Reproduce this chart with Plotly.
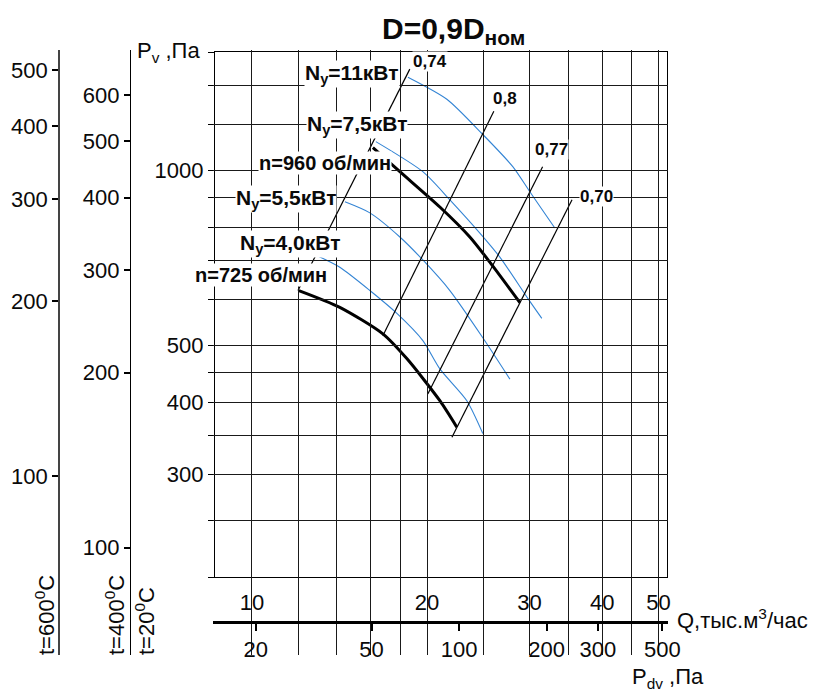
import math
import plotly.graph_objects as go

# ---------------- data ----------------
Q_MIN, Q_MAX = 8.64, 51.7          # Q axis limits, тыс. м3/час
P_MIN, P_MAX = 200, 1600           # Pv axis limits (t=20°C), Па

q_labels = [10, 20, 30, 40, 50]
q_grid = [12, 14, 16, 18, 25, 35, 45]
p_labels = [300, 400, 500, 1000]
p_grid = [200, 250, 350, 450, 600, 700, 800, 900, 1200, 1400, 1600]

pdv_ticks = [20, 50, 100, 200, 300, 500]
PDV_PER_Q2 = 0.194                 # Pdv = k * Q^2

t600_ticks = [100, 200, 300, 400, 500]
t400_ticks = [100, 200, 300, 400, 500, 600]
RATIO_600 = 0.3356                 # Pv(600°C) / Pv(20°C)
RATIO_400 = 0.445                  # Pv(400°C) / Pv(20°C)

# fan curves (Q, Pv)
n960_q = [16.14, 17.96, 21.04, 23.69, 25.64, 28.88]
n960_p = [1096, 996, 866, 769, 696, 593]
n725_q = [12.04, 14.16, 16.79, 18.46, 21.04, 22.5]
n725_p = [622, 582, 524, 475, 402, 362]

# motor power curves
N11_q = [18.54, 21.63, 24.94, 28.08, 30.04, 33.16]
N11_p = [1448, 1327, 1154, 1016, 920, 797]
N75_q = [16.33, 19.67, 21.89, 24.65, 26.68, 29.8, 31.5]
N75_p = [1122, 996, 891, 781, 710, 603, 557]
N55_q = [14.45, 15.95, 17.96, 19.67, 21.89, 24.94, 27.76]
N55_p = [884, 846, 769, 702, 622, 516, 438]
N40_q = [12.98, 14.16, 15.95, 17.75, 19.67, 21.04, 23.41, 24.94]
N40_p = [713, 682, 622, 568, 510, 456, 402, 353]

# efficiency lines
eta_names = ["0,74", "0,8", "0,77", "0,70"]
eta_q = [[12.0, 18.68], [16.79, 26.05], [20.06, 31.6], [22.07, 35.5]]
eta_p = [[622, 1495], [520, 1265], [413, 1016], [348, 891]]

# ---------------- layout geometry (pixels in the 826x698 window) ----------------
OFF = 8                         # page body margin
W, H = 818, 690
L, R, T, B = 215, 667, 52, 577
FONT = "Arial, Liberation Sans, sans-serif"
INK = "#0a0a0a"
GRID = "#1a1a1a"
BLUE = "#3384d4"


def fx(x):
    return (x - OFF) / W


def fy(y):
    return 1 - (y - OFF) / H


kx = (R - L) / (math.log10(Q_MAX) - math.log10(Q_MIN))
ky = (B - T) / (math.log10(P_MAX) - math.log10(P_MIN))


def lq_at(xpx):
    return math.log10(Q_MIN) + (xpx - L) / kx


def lp_at(ypx):
    return math.log10(P_MIN) + (B - ypx) / ky


# Pdv axis
PDV_L, PDV_R, PDV_Y = 213, 668, 622
pdv_range = [math.log10(PDV_PER_Q2) + 2 * lq_at(PDV_L),
             math.log10(PDV_PER_Q2) + 2 * lq_at(PDV_R)]

# auxiliary temperature axes
AUX_T, AUX_B = 50, 655
r600 = [math.log10(RATIO_600) + lp_at(AUX_B), math.log10(RATIO_600) + lp_at(AUX_T)]
r400 = [math.log10(RATIO_400) + lp_at(AUX_B), math.log10(RATIO_400) + lp_at(AUX_T)]

fig = go.Figure()

# power curves (blue)
for qq, pp in [(N11_q, N11_p), (N75_q, N75_p), (N55_q, N55_p), (N40_q, N40_p)]:
    fig.add_trace(go.Scatter(x=qq, y=pp, mode="lines",
                             line=dict(color=BLUE, width=1.1, shape="spline", smoothing=0.7),
                             showlegend=False, hoverinfo="skip"))

# efficiency lines
for qq, pp in zip(eta_q, eta_p):
    fig.add_trace(go.Scatter(x=qq, y=pp, mode="lines",
                             line=dict(color="black", width=1.2),
                             showlegend=False, hoverinfo="skip"))

# fan curves (thick)
for qq, pp in [(n960_q, n960_p), (n725_q, n725_p)]:
    fig.add_trace(go.Scatter(x=qq, y=pp, mode="lines",
                             line=dict(color="black", width=3, shape="spline", smoothing=0.7),
                             showlegend=False, hoverinfo="skip"))

# dummy traces so auxiliary axes are drawn
fig.add_trace(go.Scatter(x=[None], y=[None], xaxis="x", yaxis="y2", showlegend=False, hoverinfo="skip"))
fig.add_trace(go.Scatter(x=[None], y=[None], xaxis="x", yaxis="y3", showlegend=False, hoverinfo="skip"))
fig.add_trace(go.Scatter(x=[None], y=[None], xaxis="x2", yaxis="y", showlegend=False, hoverinfo="skip"))

tickfont = dict(family=FONT, size=22, color=INK)

fig.update_layout(
    template="none",
    width=W, height=H, autosize=False,
    margin=dict(l=0, r=0, t=0, b=0),
    paper_bgcolor="white", plot_bgcolor="rgba(0,0,0,0)",
    font=dict(family=FONT, color=INK),
    xaxis=dict(type="log", range=[math.log10(Q_MIN), math.log10(Q_MAX)],
               domain=[fx(L), fx(R)], anchor="y",
               tickmode="array", tickvals=q_labels, ticktext=[str(v) for v in q_labels],
               ticks="outside", ticklen=5, tickcolor="black", tickwidth=1,
               showgrid=True, gridcolor=GRID, gridwidth=1.2,
               minor=dict(tickmode="array", tickvals=q_grid, ticks="outside", ticklen=5,
                          tickcolor="black", showgrid=True, gridcolor=GRID, gridwidth=1.2),
               showline=True, linecolor="black", linewidth=1.3, mirror=True,
               zeroline=False, tickfont=tickfont, automargin=False),
    yaxis=dict(type="log", range=[math.log10(P_MIN), math.log10(P_MAX)],
               domain=[fy(B), fy(T)], anchor="x",
               tickmode="array", tickvals=p_labels, ticktext=[str(v) for v in p_labels],
               ticks="outside", ticklen=6, tickcolor="black", tickwidth=1,
               showgrid=True, gridcolor=GRID, gridwidth=1.2,
               minor=dict(tickmode="array", tickvals=p_grid, ticks="outside", ticklen=6,
                          tickcolor="black", showgrid=True, gridcolor=GRID, gridwidth=1.2),
               showline=True, linecolor="black", linewidth=1.3, mirror=True,
               zeroline=False, tickfont=tickfont, automargin=False),
    xaxis2=dict(type="log", range=pdv_range, domain=[fx(PDV_L), fx(PDV_R)],
                anchor="free", position=fy(PDV_Y), side="bottom",
                tickmode="array", tickvals=pdv_ticks,
                ticktext=[str(v) for v in pdv_ticks],
                ticks="outside", ticklen=7, tickcolor="black", tickwidth=1.5,
                showgrid=False, showline=True, linecolor="black", linewidth=2.8,
                zeroline=False, tickfont=tickfont, automargin=False),
    yaxis2=dict(type="log", range=r600, domain=[fy(AUX_B), fy(AUX_T)],
                anchor="free", position=fx(59), side="left",
                tickmode="array", tickvals=t600_ticks,
                ticktext=[str(v) for v in t600_ticks],
                ticks="outside", ticklen=6, tickcolor="black", tickwidth=1.5,
                showgrid=False, showline=True, linecolor="#444444", linewidth=1.6,
                zeroline=False, tickfont=tickfont, automargin=False),
    yaxis3=dict(type="log", range=r400, domain=[fy(AUX_B), fy(AUX_T)],
                anchor="free", position=fx(130), side="left",
                tickmode="array", tickvals=t400_ticks,
                ticktext=[str(v) for v in t400_ticks],
                ticks="outside", ticklen=6, tickcolor="black", tickwidth=1.5,
                showgrid=False, showline=True, linecolor="black", linewidth=1.4,
                zeroline=False, tickfont=tickfont, automargin=False),
)


def ann(text, x, y, size=21, bold=False, bg=None, angle=0, xanchor="center", yanchor="middle"):
    d = dict(text=("<b>%s</b>" % text) if bold else text,
             x=fx(x), y=fy(y), xref="paper", yref="paper",
             showarrow=False, xanchor=xanchor, yanchor=yanchor,
             textangle=angle,
             font=dict(family=FONT, size=size, color=INK))
    if bg:
        d.update(bgcolor=bg, borderpad=0)
    fig.add_annotation(**d)


# title
ann("D=0,9D<sub>ном</sub>", 453, 31, size=30, bold=True)

# curve labels
ann("N<sub>y</sub>=11кВт", 352, 74, size=21, bold=True, bg="white")
ann("N<sub>y</sub>=7,5кВт", 357, 125, size=21, bold=True, bg="white")
ann("n=960 об/мин", 325, 163, size=20, bold=True, bg="white")
ann("N<sub>y</sub>=5,5кВт", 286, 199, size=21, bold=True, bg="white")
ann("N<sub>y</sub>=4,0кВт", 290, 244, size=21, bold=True, bg="white")
ann("n=725 об/мин", 261, 275, size=20, bold=True, bg="white")

# efficiency labels
for name, (x, y) in zip(eta_names, [(430, 62), (505, 98), (551, 150), (596, 196)]):
    ann(name, x, y, size=17, bold=True, bg="white")

# axis titles
ann("P<sub>v</sub> ,Па", 168, 52, size=22, bg="white")
ann("Q,тыс.м<sup>3</sup>/час", 675, 619, size=22, xanchor="left")
ann("P<sub>dv</sub> ,Па", 668, 678, size=22)
ann("t=600<sup>0</sup>C", 45, 615, size=22, angle=-90)
ann("t=400<sup>0</sup>C", 115, 615, size=22, angle=-90)
ann("t=20<sup>0</sup>C", 145, 621, size=22, angle=-90)

fig.write_html("out.html")
